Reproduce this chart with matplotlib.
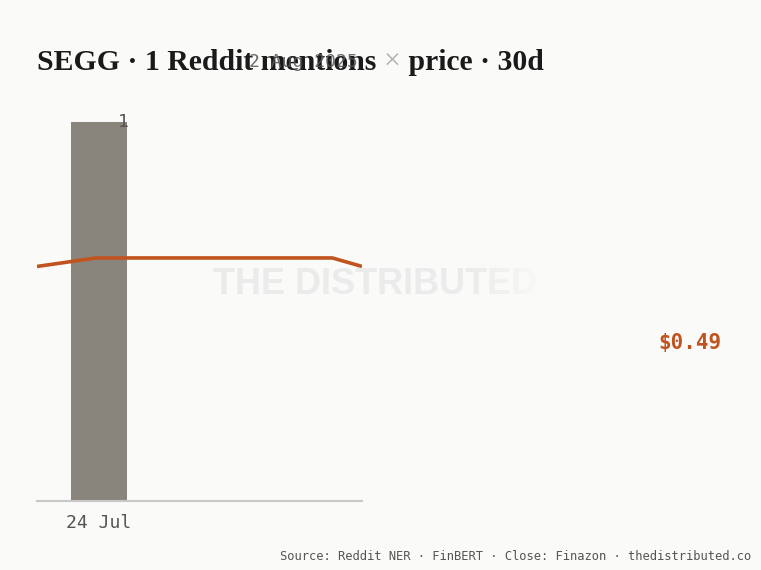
import matplotlib
matplotlib.use("Agg")
import matplotlib.pyplot as plt
import matplotlib.dates as mdates
import numpy as np
from datetime import date

# mentions per day
mention_dates = [date(2025, 7, 24)]
mention_counts = [1]

# daily close
price_dates = [date(2025, 7, 22), date(2025, 7, 24), date(2025, 7, 25), date(2025, 7, 28),
               date(2025, 7, 29), date(2025, 7, 30), date(2025, 7, 31), date(2025, 8, 1),
               date(2025, 8, 2)]
price_close = [0.49, 0.505, 0.505, 0.505, 0.505, 0.505, 0.505, 0.505, 0.49]

BG = "#fafaf8"
BAR = "#8a857c"
LINE = "#c0531e"
MONO = "DejaVu Sans Mono"

fig = plt.figure(figsize=(7.61, 5.70), dpi=100, facecolor=BG)
W, H = 761, 570


def fx(px):
    return px / W


def fy(py):
    return 1 - py / H


rect = [fx(37), fy(501), fx(362) - fx(37), fy(122) - fy(501)]
ax = fig.add_axes(rect)
ax.set_facecolor("none")

start = mdates.date2num(date(2025, 7, 22))
end = mdates.date2num(date(2025, 8, 2))

bars = ax.bar(mention_dates, mention_counts, width=1.9, color=BAR, zorder=1)
ax.set_ylim(0, 1)
ax.set_xlim(start - 0.1, end - 0.1)
for r, v in zip(bars, mention_counts):
    ax.text(r.get_x() + r.get_width() - 4 / 29.5, v, str(v), ha="center", va="center",
            fontsize=13, family=MONO, color="#555555", clip_on=False)

# price on its own overlay axes
ax2 = fig.add_axes(rect)
ax2.set_facecolor("none")
ax2.plot(price_dates, price_close, color=LINE, lw=2.6, solid_capstyle="butt", zorder=3)
ax2.set_xlim(start, end)
ax2.set_ylim(0.076, 0.745)
ax2.axis("off")

for s in ax.spines.values():
    s.set_visible(False)
ax.set_yticks([])
ax.spines["bottom"].set_visible(True)
ax.spines["bottom"].set_color("#c8c8c8")
ax.spines["bottom"].set_linewidth(1.5)
ax.set_xticks([mdates.date2num(date(2025, 7, 24))])
ax.set_xticklabels(["24 Jul"], family=MONO, fontsize=13, color="#555555")
ax.tick_params(axis="x", length=0, pad=9)

# watermark
fig.text(fx(213), fy(285), "THE DISTRIBUTED", fontsize=26, fontweight="bold",
         family="Liberation Sans", color="#ebebeb", ha="left", va="center", zorder=0)
gax = fig.add_axes([fx(468), fy(306), fx(548) - fx(468), fy(264) - fy(306)], zorder=0.5)
grad = np.zeros((2, 100, 4))
grad[..., :3] = np.array([250, 250, 248]) / 255
grad[..., 3] = np.linspace(0, 1, 100)
gax.imshow(grad, aspect="auto", extent=[0, 1, 0, 1])
gax.axis("off")

# title in three parts
title_y = fy(70)
parts = [("SEGG · 1 Reddit mentions ", "#1a1a1a", "bold"), ("×", "#b0b0b0", "normal"),
         (" price · 30d", "#1a1a1a", "bold")]
renderer = fig.canvas.get_renderer()
x = fx(37)
for txt, col, wt in parts:
    t = fig.text(x, title_y, txt, fontsize=21.4, family="Liberation Serif", fontweight=wt,
                 color=col, ha="left", va="baseline")
    bb = t.get_window_extent(renderer=renderer)
    x = bb.x1 / W

fig.text(fx(358), fy(62), "2 Aug 2025", family=MONO, fontsize=13, color="#555555",
         ha="right", va="center", alpha=0.85)

fig.text(fx(722), fy(343), "$%.2f" % price_close[-1], family=MONO, fontsize=15,
         fontweight="bold", color=LINE, ha="right", va="center")

fig.text(fx(751), fy(556), "Source: Reddit NER · FinBERT · Close: Finazon · thedistributed.co",
         family=MONO, fontsize=8.7, color="#555555", ha="right", va="center")

fig.savefig("out.png", dpi=100, facecolor=BG)
